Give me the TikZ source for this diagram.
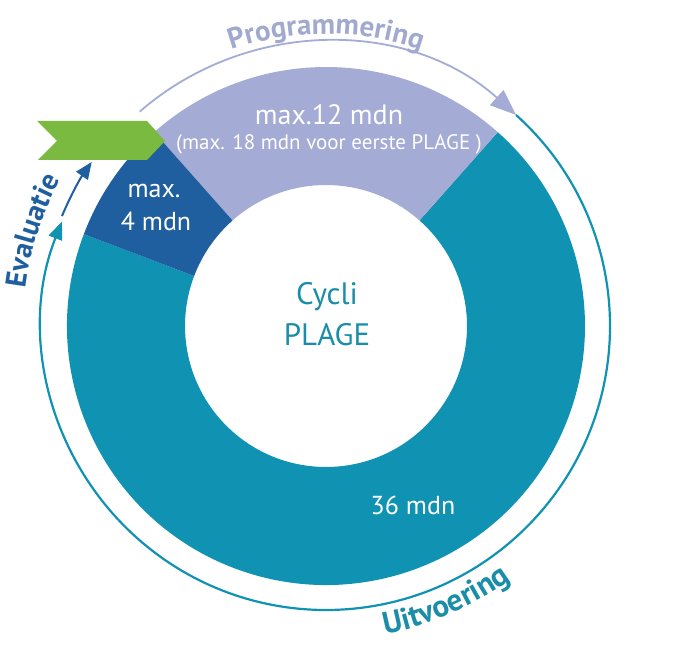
\documentclass[tikz,border=0pt]{standalone}
\usepackage{fontspec}
\setmainfont{PT Sans}
\usetikzlibrary{decorations.text,arrows.meta}
\definecolor{ringteal}{HTML}{1092B3}
\definecolor{ringlav}{HTML}{A4ABD4}
\definecolor{ringblue}{HTML}{1F5FA0}
\definecolor{flaggreen}{HTML}{7BBA41}
\definecolor{textteal}{HTML}{1A8DA8}
\definecolor{textlav}{HTML}{A2A9CF}
\begin{document}
\begin{tikzpicture}[x=1pt,y=1pt,
  lbl/.style={text=white,inner sep=0pt},
  curvelbl/.style={decorate,decoration={text along path,text align=center,#1}}]
\useasboundingbox (0,0) rectangle (688,656);
\coordinate (C) at (326,330);
\begin{scope}[shift={(C)}]
  % ring segments (12 + 4 + 36 = 52 months)
  \fill[ringteal] (159.23:259) arc[start angle=159.23,end angle=408.46,radius=259]
     -- (408.46:141) arc[start angle=408.46,end angle=159.23,radius=141] -- cycle;
  \fill[ringlav] (48.46:259) arc[start angle=48.46,end angle=131.54,radius=259]
     -- (131.54:141) arc[start angle=131.54,end angle=48.46,radius=141] -- cycle;
  \fill[ringblue] (131.54:259) arc[start angle=131.54,end angle=159.23,radius=259]
     -- (159.23:141) arc[start angle=159.23,end angle=131.54,radius=141] -- cycle;
  % outer arrows
  \draw[ringlav,line width=1.8,-{Triangle[length=26,width=20]}]
     (131:284) arc[start angle=131,end angle=48,radius=284];
  \draw[ringteal,line width=2.2,-{Triangle[length=18,width=14]}]
     (48:284) arc[start angle=48,end angle=-201.6,radius=284];
  \draw[ringblue,line width=2,-{Triangle[length=17,width=14]}]
     (157.4:286) arc[start angle=157.4,end angle=145,radius=286];
  % curved labels
  \path[curvelbl={text={|\fontsize{29}{32}\selectfont\bfseries\color{textlav}|Programmering}}]
     (150:292) arc[start angle=150,end angle=30,radius=292];
  \path[curvelbl={text={|\fontsize{31}{34}\selectfont\bfseries\color{textteal}|Uitvoering}}]
     (-105:314) arc[start angle=-105,end angle=-28,radius=314];
  \path[curvelbl={text={|\fontsize{29}{32}\selectfont\bfseries\color{ringblue}|Evaluatie}}]
     (188:303) arc[start angle=188,end angle=136,radius=303];
\end{scope}
% green flag
\fill[flaggreen] (37,535) -- (147,535) -- (165,515) -- (147,496) -- (38,496) -- (57,515) -- cycle;
% labels
\node[lbl,font=\fontsize{28}{32}\selectfont] (m12) at (329,541) {max.12 mdn};
\node[lbl,font=\fontsize{21}{24}\selectfont] (m18) at (329,512) {(max. 18 mdn voor eerste PLAGE )};
\node[lbl,font=\fontsize{26}{30}\selectfont] (m4a) at (154,465) {max.};
\node[lbl,font=\fontsize{26}{30}\selectfont] (m4b) at (156,435) {4 mdn};
\node[lbl,font=\fontsize{26}{30}\selectfont] (m36) at (413,151) {36 mdn};
\node[inner sep=0pt,text=textteal,font=\fontsize{31}{34}\selectfont] (cycli) at (327,359) {Cycli};
\node[inner sep=0pt,text=textteal,font=\fontsize{31}{34}\selectfont] (plage) at (327,321) {PLAGE};
\end{tikzpicture}
\end{document}
